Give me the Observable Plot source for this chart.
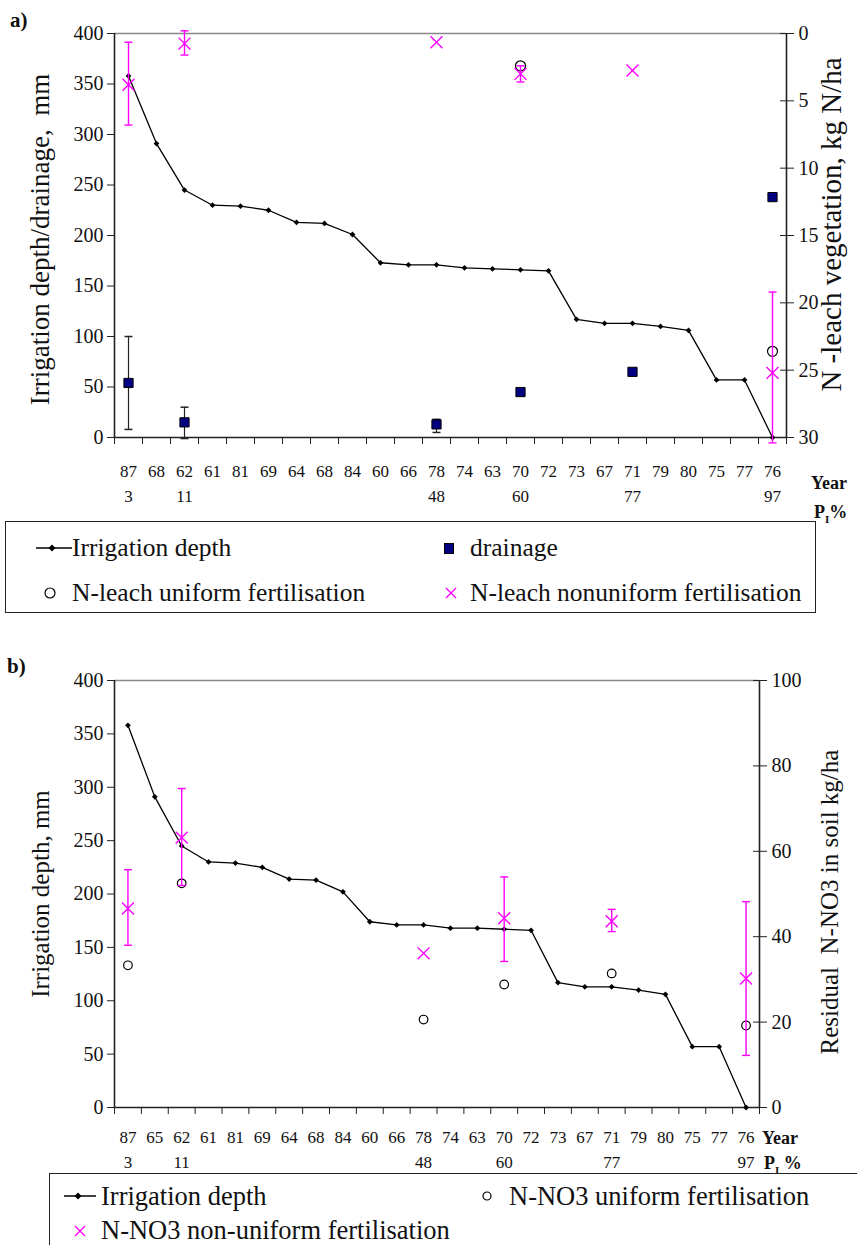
<!DOCTYPE html>
<html><head><meta charset="utf-8">
<script src="https://cdn.jsdelivr.net/npm/d3@7"></script>
<script src="https://cdn.jsdelivr.net/npm/@observablehq/plot@0.6"></script>
<style>
body{margin:0;background:#fff;overflow:hidden;width:857px;height:1245px;position:relative;color:#111;font-family:'Liberation Serif','Times New Roman', Times, serif}
.abs{position:absolute;white-space:nowrap;line-height:1}
.leg{position:absolute;border:1px solid #222;box-sizing:border-box;background:#fff}
.li{position:absolute;font-size:25.5px;line-height:26px;white-space:nowrap}
.lb{font-size:26.5px}
.sym{position:absolute}
</style></head><body>
<div id="pa" class="abs" style="left:0;top:0"></div>
<div id="pb" class="abs" style="left:0;top:620px"></div>
<div class="abs" style="left:10px;top:10px;font-size:21px;font-weight:bold">a)</div>
<div class="abs" style="left:7px;top:656px;font-size:21px;font-weight:bold">b)</div>
<div class="abs" style="left:811px;top:474px;font-size:18px;font-weight:bold">Year</div>
<div class="abs" style="left:814px;top:503px;font-size:18px;font-weight:bold">P<sub style="font-size:11px">I</sub>%</div>
<div class="abs" style="left:762px;top:1129px;font-size:18px;font-weight:bold">Year</div>
<div class="abs" style="left:764px;top:1154px;font-size:18px;font-weight:bold">P<sub style="font-size:11px">I</sub> %</div>

<div class="leg" style="left:5px;top:521px;width:811px;height:92px">
  <svg class="sym" style="left:28px;top:18px" width="40" height="16"><line x1="2" y1="8" x2="38" y2="8" stroke="#000" stroke-width="1.5"/><path d="M18,4.5 L21.5,8 L18,11.5 L14.5,8Z" fill="#000"/></svg>
  <div class="li" style="left:66px;top:13px">Irrigation depth</div>
  <svg class="sym" style="left:437px;top:20px" width="14" height="14"><rect x="1.5" y="1.5" width="9" height="10" fill="#000080" stroke="#000" stroke-width="1"/></svg>
  <div class="li" style="left:464px;top:13px">drainage</div>
  <svg class="sym" style="left:36px;top:63px" width="16" height="16"><circle cx="8" cy="8" r="5" fill="none" stroke="#000" stroke-width="1.2"/></svg>
  <div class="li" style="left:66px;top:58px">N-leach uniform fertilisation</div>
  <svg class="sym" style="left:437px;top:63px" width="16" height="16"><path d="M3,3L13,13M13,3L3,13" stroke="#ff00ff" stroke-width="1.4"/></svg>
  <div class="li" style="left:464px;top:58px">N-leach nonuniform fertilisation</div>
</div>

<div class="leg" style="left:49px;top:1173px;width:900px;height:110px">
  <svg class="sym" style="left:12px;top:14px" width="36" height="16"><line x1="2" y1="8" x2="34" y2="8" stroke="#000" stroke-width="1.5"/><path d="M16,4.5 L19.5,8 L16,11.5 L12.5,8Z" fill="#000"/></svg>
  <div class="li lb" style="left:51px;top:9px">Irrigation depth</div>
  <svg class="sym" style="left:429px;top:14px" width="16" height="16"><circle cx="8" cy="8" r="4" fill="none" stroke="#000" stroke-width="1.2"/></svg>
  <div class="li lb" style="left:459px;top:9px">N-NO3 uniform fertilisation</div>
  <svg class="sym" style="left:22px;top:49px" width="16" height="16"><path d="M3,3L13,13M13,3L3,13" stroke="#ff00ff" stroke-width="1.4"/></svg>
  <div class="li lb" style="left:51px;top:43px">N-NO3 non-uniform fertilisation</div>
</div>

<script>
// ---------- data ----------
const yearsA = ["87","68","62","61","81","69","64","68","84","60","66","78","74","63","70","72","73","67","71","79","80","75","77","76"];
const yearsB = ["87","65","62","61","81","69","64","68","84","60","66","78","74","63","70","72","73","67","71","79","80","75","77","76"];
const piLabels = ["3","","11","","","","","","","","","48","","","60","","","","77","","","","","97"];
const irrigationA = [358,291,245,230,229,225,213,212,201,173,171,171,168,167,166,165,117,113,113,110,106,57,57,0];
const irrigationB = [358,291,245,230,229,225,214,213,202,174,171,171,168,168,167,166,117,113,113,110,106,57,57,0];

// panel a: drainage (mm), index of category
const drainCat = [0,2,11,14,18,23];
const drainVal = [54,15,13,45,65,238];
const drainLo  = [8,-1,5,null,null,null];
const drainHi  = [100,30,18,null,null,null];

// panel a: N-leach (kg N/ha, right axis, inverted)
const leachUniCat = [14,23];
const leachUniVal = [2.4,23.6];
const leachNonCat = [0,2,11,14,18,23];
const leachNonVal = [3.8,0.75,0.65,3.0,2.75,25.2];
const leachNonLo  = [0.65,-0.2,null,2.4,null,19.2];
const leachNonHi  = [6.8,1.6,null,3.6,null,30.4];
const leachTicks = [0,5,10,15,20,25,30];

// panel b: residual N-NO3 (kg/ha, right axis)
const no3Cat = [0,2,11,14,18,23];
const no3UniVal = [33.3,52.5,20.6,28.8,31.4,19.2];
const no3NonVal = [46.6,63.2,36.1,44.3,43.6,30.2];
const no3NonLo  = [38,52,null,34.2,41.2,12.2];
const no3NonHi  = [55.7,74.7,null,54,46.4,48.2];
const no3Ticks = [0,20,40,60,80,100];

const irrTicks = [0,50,100,150,200,250,300,350,400];

// ---------- helpers ----------
const font = "'Liberation Serif','Times New Roman', Times, serif";
const idx = d3.range(yearsA.length);
const bounds = d3.range(yearsA.length + 1).map(i => i - 0.5);
const capSym = {draw(ctx, size){ const w = Math.sqrt(size)/2; ctx.moveTo(-w,0); ctx.lineTo(w,0); }};
const toA = v => 400 - v*400/30;   // N-leach -> left units
const fromA = y => Math.round((400 - y)*30/400);
const toB = v => v*4;              // N-NO3 -> left units
const fromB = y => Math.round(y/4);

function errRows(cats, lo, hi){
  const r = [];
  cats.forEach((c,k) => { if (lo[k] != null) r.push({x:c, lo:lo[k], hi:hi[k]}); });
  return r;
}

function frameMarks(yearLabels, padA, padB, rightTicks, toRight, fromRight){
  return [
    Plot.ruleY([400], {stroke:"#888", strokeWidth:1.5}),
    Plot.ruleY([0], {stroke:"#222", strokeWidth:1.6}),
    Plot.ruleX([-0.5], {stroke:"#222", strokeWidth:1.6}),
    Plot.ruleX([23.5], {stroke:"#222", strokeWidth:1.6}),
    Plot.axisY({anchor:"left", ticks: irrTicks, tickSize:7, tickPadding:4, fontSize:20, label:null, stroke:"#222"}),
    Plot.axisY({anchor:"right", ticks: rightTicks.map(toRight), tickFormat: fromRight, tickSize:7, tickPadding:5, fontSize:20, label:null, stroke:"#222"}),
    Plot.axisY({anchor:"right", ticks: rightTicks.map(toRight), tickFormat: () => "", tickSize:-7, label:null, stroke:"#222"}),
    Plot.axisX({ticks: bounds, tickFormat: () => "", tickSize:7, label:null, stroke:"#222"}),
    Plot.axisX({ticks: idx, tickFormat: i => yearLabels[i], tickSize:0, tickPadding:padA, fontSize:17, label:null}),
    Plot.axisX({ticks: idx.filter(i => piLabels[i] !== ""), tickFormat: i => piLabels[i], tickSize:0, tickPadding:padB, fontSize:17, label:null})
  ];
}

// ---------- panel a ----------
const drainErr = errRows(drainCat, drainLo, drainHi);
const leachErr = errRows(leachNonCat, leachNonLo, leachNonHi);
const pa = Plot.plot({
  width:857, height:520, marginTop:33, marginLeft:114, marginRight:71, marginBottom:83,
  style:{fontFamily:font, color:"#111", background:"transparent", overflow:"visible"},
  x:{type:"linear", domain:[-0.5,23.5]},
  y:{domain:[0,400]},
  marks:[
    ...frameMarks(yearsA, 27, 52, leachTicks, toA, fromA),
    Plot.line(idx, {x:i=>i, y:i=>irrigationA[i], stroke:"#000", strokeWidth:1.3}),
    Plot.dot(idx, {x:i=>i, y:i=>irrigationA[i], symbol:"diamond2", r:2.6, fill:"#000"}),
    Plot.ruleX(drainErr, {x:"x", y1:"lo", y2:"hi", stroke:"#222", strokeWidth:1.2}),
    Plot.dot(drainErr, {x:"x", y:"lo", symbol:capSym, r:4.5, stroke:"#222", fill:"none"}),
    Plot.dot(drainErr, {x:"x", y:"hi", symbol:capSym, r:4.5, stroke:"#222", fill:"none"}),
    Plot.dot(drainCat, {x:d=>d, y:(d,k)=>drainVal[k], symbol:"square", r:5.2, fill:"#000080", stroke:"#000", strokeWidth:1}),
    Plot.dot(leachUniCat, {x:d=>d, y:(d,k)=>toA(leachUniVal[k]), r:5, fill:"none", stroke:"#000", strokeWidth:1.2}),
    Plot.ruleX(leachErr, {x:"x", y1:d=>toA(d.lo), y2:d=>toA(d.hi), stroke:"#ff00ff", strokeWidth:1.4}),
    Plot.dot(leachErr, {x:"x", y:d=>toA(d.lo), symbol:capSym, r:4.5, stroke:"#ff00ff", fill:"none", strokeWidth:1.4}),
    Plot.dot(leachErr, {x:"x", y:d=>toA(d.hi), symbol:capSym, r:4.5, stroke:"#ff00ff", fill:"none", strokeWidth:1.4}),
    Plot.dot(leachNonCat, {x:d=>d, y:(d,k)=>toA(leachNonVal[k]), symbol:"times", r:5.5, stroke:"#ff00ff", strokeWidth:1.4}),
    Plot.text(["Irrigation depth/drainage,  mm"], {frameAnchor:"left", textAnchor:"middle", rotate:-90, dx:-74, dy:4, fontSize:27}),
    Plot.text(["N -leach vegetation, kg N/ha"], {frameAnchor:"right", textAnchor:"middle", rotate:-90, dx:45, dy:-11, fontSize:29})
  ]
});
document.getElementById("pa").appendChild(pa);

// ---------- panel b ----------
const no3Err = errRows(no3Cat, no3NonLo, no3NonHi);
const pb = Plot.plot({
  width:857, height:560, marginTop:60, marginLeft:114, marginRight:98, marginBottom:73,
  style:{fontFamily:font, color:"#111", background:"transparent", overflow:"visible"},
  x:{type:"linear", domain:[-0.5,23.5]},
  y:{domain:[0,400]},
  marks:[
    ...frameMarks(yearsB, 23, 48, no3Ticks, toB, fromB),
    Plot.line(idx, {x:i=>i, y:i=>irrigationB[i], stroke:"#000", strokeWidth:1.3}),
    Plot.dot(idx, {x:i=>i, y:i=>irrigationB[i], symbol:"diamond2", r:2.6, fill:"#000"}),
    Plot.dot(no3Cat, {x:d=>d, y:(d,k)=>toB(no3UniVal[k]), r:4.3, fill:"none", stroke:"#000", strokeWidth:1.2}),
    Plot.ruleX(no3Err, {x:"x", y1:d=>toB(d.lo), y2:d=>toB(d.hi), stroke:"#ff00ff", strokeWidth:1.4}),
    Plot.dot(no3Err, {x:"x", y:d=>toB(d.lo), symbol:capSym, r:4.5, stroke:"#ff00ff", fill:"none", strokeWidth:1.4}),
    Plot.dot(no3Err, {x:"x", y:d=>toB(d.hi), symbol:capSym, r:4.5, stroke:"#ff00ff", fill:"none", strokeWidth:1.4}),
    Plot.dot(no3Cat, {x:d=>d, y:(d,k)=>toB(no3NonVal[k]), symbol:"times", r:5.5, stroke:"#ff00ff", strokeWidth:1.4}),
    Plot.text(["Irrigation depth, mm"], {frameAnchor:"left", textAnchor:"middle", rotate:-90, dx:-74, fontSize:25}),
    Plot.text(["Residual  N-NO3 in soil kg/ha"], {frameAnchor:"right", textAnchor:"middle", rotate:-90, dx:70, dy:8, fontSize:25})
  ]
});
document.getElementById("pb").appendChild(pb);
</script>
</body></html>
